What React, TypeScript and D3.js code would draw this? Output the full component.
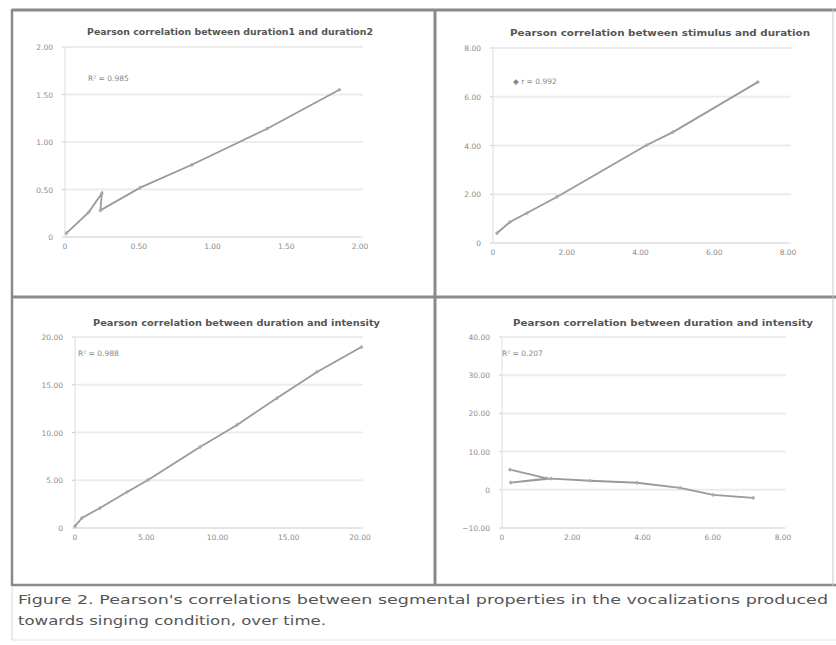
import React from 'react';
import * as d3 from 'd3';

// values
const p1X = [0.01, 0.16, 0.25, 0.24, 0.51, 0.86, 1.37, 1.86];
const p1Y = [0.04, 0.26, 0.46, 0.28, 0.52, 0.76, 1.14, 1.55];
const p2X = [0.11, 0.46, 0.92, 1.73, 4.17, 4.88, 7.18];
const p2Y = [0.41, 0.86, 1.23, 1.89, 4.02, 4.55, 6.6];
const p3X = [0.0, 0.49, 1.75, 3.65, 5.12, 8.77, 11.37, 14.18, 16.98, 20.1];
const p3Y = [0.2, 1.05, 2.09, 3.77, 5.03, 8.48, 10.79, 13.61, 16.34, 18.95];
const p4X = [0.23, 1.28, 0.25, 1.4, 2.51, 3.85, 5.07, 6.01, 7.15];
const p4Y = [5.26, 3.0, 1.9, 2.9, 2.37, 1.84, 0.53, -1.32, -2.11];

const ticks0to2 = [0, 0.5, 1, 1.5, 2];
const ticks0to8 = [0, 2, 4, 6, 8];
const ticks0to20 = [0, 5, 10, 15, 20];
const ticksNeg10to40 = [-10, 0, 10, 20, 30, 40];

const titles = [
  'Pearson correlation between duration1 and duration2',
  'Pearson correlation between stimulus and duration',
  'Pearson correlation between duration and intensity',
  'Pearson correlation between duration and intensity',
];
const legends = ['R² = 0.985', '◆ r = 0.992', 'R² = 0.988', 'R² = 0.207'];
const caption1 = "Figure 2. Pearson's correlations between segmental properties in the vocalizations produced";
const caption2 = 'towards singing condition, over time.';

const fmt = (v: number) => (v === 0 ? '0' : d3.format('.2f')(v));

type PanelProps = {
  xs: number[]; ys: number[];
  xDomain: [number, number]; yDomain: [number, number];
  xRange: [number, number]; yRange: [number, number];
  xTicks: number[]; yTicks: number[];
  title: string; titleX: [number, number]; titleY: number;
  legend: string; legendPos: [number, number];
};

const Panel = (p: PanelProps) => {
  const x = d3.scaleLinear().domain(p.xDomain).range(p.xRange);
  const y = d3.scaleLinear().domain(p.yDomain).range(p.yRange);
  const pts = p.xs.map((v, i) => [v, p.ys[i]] as [number, number]);
  const line = d3.line<[number, number]>().x(d => x(d[0])).y(d => y(d[1]));
  const bottom = y(p.yDomain[0]);
  return (
    <g>
      <text x={p.titleX[0]} y={p.titleY} fontSize={8.5} fontWeight="bold" fill="#555"
        textLength={p.titleX[1] - p.titleX[0]} lengthAdjust="spacingAndGlyphs">{p.title}</text>
      {p.yTicks.map(t => (
        <g key={'y' + t}>
          <line x1={p.xRange[0]} x2={p.xRange[1] + 3} y1={y(t)} y2={y(t)} stroke="#ececec" strokeWidth={2} />
          <line x1={p.xRange[0] - 3} x2={p.xRange[0]} y1={y(t)} y2={y(t)} stroke="#ccc" />
          <text x={p.xRange[0] - 12} y={y(t) + 3} fontSize={7.5} fill="#8c8c8c" textAnchor="end">{fmt(t)}</text>
        </g>
      ))}
      <line x1={p.xRange[0]} x2={p.xRange[0]} y1={p.yRange[1]} y2={bottom} stroke="#ddd" />
      <line x1={p.xRange[0]} x2={p.xRange[1]} y1={bottom} y2={bottom} stroke="#ddd" />
      {p.xTicks.map(t => (
        <text key={'x' + t} x={x(t)} y={bottom + 12} fontSize={7.5} fill="#8c8c8c" textAnchor="middle">{fmt(t)}</text>
      ))}
      <text x={p.legendPos[0]} y={p.legendPos[1]} fontSize={7.5} fill="#888">{p.legend}</text>
      <path d={line(pts) || ''} fill="none" stroke="#9a9a9a" strokeWidth={1.8} />
      {pts.map((d, i) => (
        <rect key={i} x={x(d[0]) - 1.5} y={y(d[1]) - 1.5} width={3} height={3}
          transform={`rotate(45 ${x(d[0])} ${y(d[1])})`} fill="#aaa" />
      ))}
    </g>
  );
};

export default function App() {
  return (
    <svg width={836} height={645} style={{ position: 'absolute', left: 0, top: 0, background: '#fff' }}
      fontFamily="'DejaVu Sans', sans-serif">
      <rect x={0} y={0} width={836} height={645} fill="#fff" />
      {/* frame */}
      <line x1={12} x2={836} y1={10} y2={10} stroke="#8a8a8a" strokeWidth={3} />
      <line x1={12} x2={12} y1={9} y2={586} stroke="#8a8a8a" strokeWidth={2.5} />
      <line x1={435} x2={435} y1={9} y2={586} stroke="#8a8a8a" strokeWidth={3} />
      <line x1={12} x2={836} y1={297} y2={297} stroke="#8a8a8a" strokeWidth={3} />
      <line x1={12} x2={836} y1={585} y2={585} stroke="#8a8a8a" strokeWidth={2.5} />
      <line x1={833} x2={833} y1={9} y2={586} stroke="#c8c8c8" strokeWidth={1} />
      <line x1={12} x2={836} y1={640} y2={640} stroke="#e4e4e4" strokeWidth={1} />
      <line x1={12} x2={12} y1={586} y2={640} stroke="#d8d8d8" strokeWidth={1} />

      <Panel xs={p1X} ys={p1Y} xDomain={[0, 2]} yDomain={[0, 2]} xRange={[65, 360]} yRange={[237, 47]}
        xTicks={ticks0to2} yTicks={ticks0to2} title={titles[0]} titleX={[87, 373]} titleY={35}
        legend={legends[0]} legendPos={[88, 81]} />
      <Panel xs={p2X} ys={p2Y} xDomain={[0, 8]} yDomain={[0, 8]} xRange={[493, 788]} yRange={[243, 48]}
        xTicks={ticks0to8} yTicks={ticks0to8} title={titles[1]} titleX={[510, 810]} titleY={36}
        legend={legends[1]} legendPos={[513, 84]} />
      <Panel xs={p3X} ys={p3Y} xDomain={[0, 20]} yDomain={[0, 20]} xRange={[75, 360]} yRange={[528, 337]}
        xTicks={ticks0to20} yTicks={ticks0to20} title={titles[2]} titleX={[93, 380]} titleY={326}
        legend={legends[2]} legendPos={[78, 356]} />
      <Panel xs={p4X} ys={p4Y} xDomain={[0, 8]} yDomain={[-10, 40]} xRange={[502, 783]} yRange={[528, 337]}
        xTicks={ticks0to8} yTicks={ticksNeg10to40} title={titles[3]} titleX={[513, 813]} titleY={326}
        legend={legends[3]} legendPos={[502, 356]} />

      <text x={18} y={604} fontSize={13} fill="#555" textLength={810} lengthAdjust="spacingAndGlyphs">{caption1}</text>
      <text x={18} y={625} fontSize={13} fill="#555" textLength={308} lengthAdjust="spacingAndGlyphs">{caption2}</text>
    </svg>
  );
}
